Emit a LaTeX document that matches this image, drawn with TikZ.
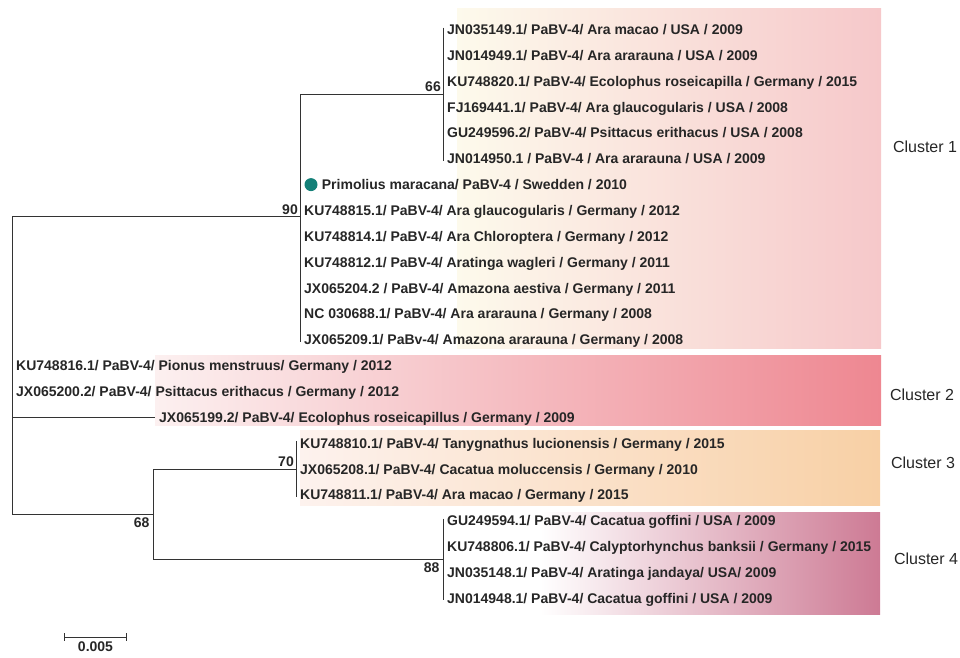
\documentclass[tikz,border=0pt]{standalone}
\usepackage{fontspec}
\setmainfont{Liberation Sans}
\usepackage{tikz}
\usetikzlibrary{arrows,positioning,calc}
\definecolor{cOneL}{RGB}{253,250,236}
\definecolor{cOneM}{RGB}{251,225,206}
\definecolor{cOneR}{RGB}{246,200,202}
\definecolor{cTwoL}{RGB}{252,240,240}
\definecolor{cTwoM}{RGB}{247,200,205}
\definecolor{cTwoR}{RGB}{238,135,145}
\definecolor{cThreeL}{RGB}{253,242,238}
\definecolor{cThreeM}{RGB}{252,225,205}
\definecolor{cThreeR}{RGB}{248,208,165}
\definecolor{cFourM}{RGB}{234,200,210}
\definecolor{cFourR}{RGB}{205,122,148}
\definecolor{teal}{RGB}{20,128,120}
\tikzstyle{leaf} = [anchor=west, inner xsep=4pt, inner ysep=0pt, text height=10pt, text depth=0pt,
    font=\fontsize{14}{16}\selectfont\bfseries, text=black!85]
\tikzstyle{support} = [inner sep=2pt, font=\fontsize{14}{16}\selectfont\bfseries, text=black!85]
\tikzstyle{cluster} = [font=\fontsize{16}{18}\selectfont, text=black!85]
\tikzstyle{branch} = [draw, line width=1pt, color=black!80]
\tikzstyle{bracket} = [branch, shorten <=-2pt, shorten >=-2pt]
\tikzstyle{dot} = [circle, fill=teal, minimum size=13pt, inner sep=0pt]

\begin{document}
\begin{tikzpicture}[x=1pt, y=-1pt]
    \useasboundingbox (0,0) rectangle (960,657);
    \shade [left color=cOneL, middle color=cOneM, right color=cOneR] (457,8) rectangle (881,348);
    \shade [left color=cTwoL, middle color=cTwoM, right color=cTwoR] (155,355) rectangle (881,425);
    \shade [left color=cThreeL, middle color=cThreeM, right color=cThreeR] (300,430) rectangle (880,505);
    \shade [left color=white, middle color=cFourM, right color=cFourR] (540,512) rectangle (880,614);

    \coordinate (n66) at (443,94.15);
    \coordinate (n90) at (300,216.9);
    \coordinate (root) at (12,366);
    \coordinate (n68) at (153,514.2);
    \coordinate (n70) at (296,469);
    \coordinate (n88) at (443,559.5);

    \node at (443,29.5) [leaf] (l0) {JN035149.1/ PaBV-4/ Ara macao / USA / 2009};
    \node at (443,55.4) [leaf] (l1) {JN014949.1/ PaBV-4/ Ara ararauna / USA / 2009};
    \node at (443,81.2) [leaf] (l2) {KU748820.1/ PaBV-4/ Ecolophus roseicapilla / Germany / 2015};
    \node at (443,107.1) [leaf] (l3) {FJ169441.1/ PaBV-4/ Ara glaucogularis / USA / 2008};
    \node at (443,132.9) [leaf] (l4) {GU249596.2/ PaBV-4/ Psittacus erithacus / USA / 2008};
    \node at (443,158.8) [leaf] (l5) {JN014950.1 / PaBV-4 / Ara ararauna / USA / 2009};
    \node at (311,184.6) [dot] (pm) {};
    \node [leaf, right=0pt of pm] (l6) {Primolius maracana/ PaBV-4 / Swedden / 2010};
    \node at (300,210.5) [leaf] (l7) {KU748815.1/ PaBV-4/ Ara glaucogularis / Germany / 2012};
    \node at (300,236.3) [leaf] (l8) {KU748814.1/ PaBV-4/ Ara Chloroptera / Germany / 2012};
    \node at (300,262.2) [leaf] (l9) {KU748812.1/ PaBV-4/ Aratinga wagleri / Germany / 2011};
    \node at (300,288.0) [leaf] (l10) {JX065204.2 / PaBV-4/ Amazona aestiva / Germany / 2011};
    \node at (300,313.9) [leaf] (l11) {NC 030688.1/ PaBV-4/ Ara ararauna / Germany / 2008};
    \node at (300,339.7) [leaf] (l12) {JX065209.1/ PaBv-4/ Amazona ararauna / Germany / 2008};
    \node at (12,365.6) [leaf] (l13) {KU748816.1/ PaBV-4/ Pionus menstruus/ Germany / 2012};
    \node at (12,391.4) [leaf] (l14) {JX065200.2/ PaBV-4/ Psittacus erithacus / Germany / 2012};
    \node at (155,417.3) [leaf] (l15) {JX065199.2/ PaBV-4/ Ecolophus roseicapillus / Germany / 2009};
    \node at (296,443.1) [leaf] (l16) {KU748810.1/ PaBV-4/ Tanygnathus lucionensis / Germany / 2015};
    \node at (296,469.0) [leaf] (l17) {JX065208.1/ PaBV-4/ Cacatua moluccensis / Germany / 2010};
    \node at (296,494.8) [leaf] (l18) {KU748811.1/ PaBV-4/ Ara macao / Germany / 2015};
    \node at (443,520.7) [leaf] (l19) {GU249594.1/ PaBV-4/ Cacatua goffini / USA / 2009};
    \node at (443,546.5) [leaf] (l20) {KU748806.1/ PaBV-4/ Calyptorhynchus banksii / Germany / 2015};
    \node at (443,572.4) [leaf] (l21) {JN035148.1/ PaBV-4/ Aratinga jandaya/ USA/ 2009};
    \node at (443,598.2) [leaf] (l22) {JN014948.1/ PaBV-4/ Cacatua goffini / USA / 2009};

    % tree branches
    \draw [bracket] (n66 |- l0.west) -- (n66 |- l5.west);
    \draw [branch] (n90 |- n66) -- (n66);
    \draw [branch] (n90 |- n66) -- ($(n90 |- l12.west) + (0,2)$);
    \draw [branch] (root |- n90) -- (n90);
    \draw [branch] (root |- n90) -- (root |- n68);
    \draw [branch] (root |- l15.west) -- (l15.west);
    \draw [branch] (root |- n68) -- (n68);
    \draw [branch] (n68 |- n70) -- (n68 |- n88);
    \draw [branch] (n68 |- n70) -- (n70);
    \draw [branch] (n68 |- n88) -- (n88);
    \draw [bracket] (n70 |- l16.west) -- (n70 |- l18.west);
    \draw [bracket] (n88 |- l19.west) -- (n88 |- l22.west);

    \node [support, above left=0pt of n66] (b66) {66};
    \node [support, above left=0pt of n90] (b90) {90};
    \node [support, above left=0pt of n70] (b70) {70};
    \node [support, below left=2pt of n68] (b68) {68};
    \node [support, below left=2pt of n88] (b88) {88};

    \node at (925,147) [cluster] (c1) {Cluster 1};
    \node at (922,395) [cluster] (c2) {Cluster 2};
    \node at (923,463) [cluster] (c3) {Cluster 3};
    \node at (926,559) [cluster] (c4) {Cluster 4};

    \coordinate (sb1) at (64,637);
    \coordinate (sb2) at (127,637);
    \draw [branch, |-|] (sb1) -- (sb2);
    \node [support, below=3pt of $(sb1)!0.5!(sb2)$] (sbl) {0.005};
\end{tikzpicture}
\end{document}
